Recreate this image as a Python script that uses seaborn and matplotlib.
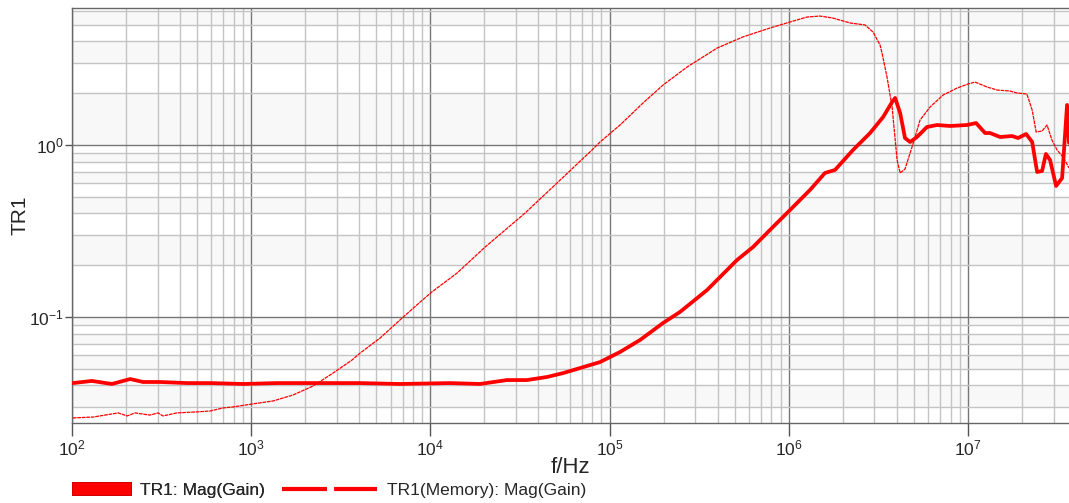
import numpy as np
import pandas as pd
import matplotlib
matplotlib.use("Agg")
import matplotlib.pyplot as plt
import matplotlib.ticker as mticker
from matplotlib.lines import Line2D
from matplotlib.patches import Patch
import seaborn as sns

# TR1: Mag(Gain) - traccia attuale
freq_tr1 = [101, 129, 167, 211, 249, 310, 438, 589, 900, 1393, 2130, 4050, 6760,
            12860, 18900, 26740, 34600, 44700, 55000, 68400, 88400, 114300, 147800,
            198700, 247000, 349700, 514000, 631000, 816000, 1.016e6, 1.313e6, 1.592e6,
            1.81e6, 2.28e6, 2.84e6, 3.36e6, 3.77e6, 3.92e6, 4.18e6, 4.45e6, 4.75e6,
            5.19e6, 5.90e6, 6.71e6, 7.94e6, 9.87e6, 1.109e7, 1.245e7, 1.328e7, 1.51e7,
            1.762e7, 1.90e7, 2.11e7, 2.28e7, 2.43e7, 2.59e7, 2.72e7, 2.87e7, 3.10e7,
            3.35e7, 3.57e7, 3.66e7]
mag_tr1 = [0.0413, 0.0425, 0.0408, 0.0436, 0.0419, 0.0419, 0.0413, 0.0413, 0.0408,
           0.0413, 0.0413, 0.0413, 0.0408, 0.0413, 0.0408, 0.0430, 0.0430, 0.0448,
           0.0472, 0.0505, 0.0547, 0.0626, 0.0735, 0.0923, 0.107, 0.1435, 0.2145,
           0.255, 0.334, 0.419, 0.548, 0.688, 0.716, 0.935, 1.174, 1.455, 1.778,
           1.877, 1.535, 1.098, 1.041, 1.113, 1.273, 1.307, 1.290, 1.307, 1.342,
           1.174, 1.174, 1.113, 1.128, 1.098, 1.159, 1.041, 0.697, 0.706, 0.887,
           0.818, 0.578, 0.643, 1.71, 1.03]

# TR1(Memory): Mag(Gain) - traccia in memoria
freq_mem = [101, 131, 181, 203, 225, 272, 302, 322, 385, 473, 589, 696, 791, 1010,
            1324, 1711, 2213, 2860, 3650, 4050, 5240, 6760, 8750, 10200, 14070, 20180,
            33740, 50850, 79700, 88400, 114300, 153500, 198700, 270400, 397600, 554600,
            785000, 1.016e6, 1.265e6, 1.494e6, 1.766e6, 2.20e6, 2.66e6, 2.95e6, 3.23e6,
            3.31e6, 3.53e6, 3.77e6, 4.02e6, 4.18e6, 4.45e6, 4.87e6, 5.40e6, 6.14e6,
            7.26e6, 8.69e6, 1.0e7, 1.094e7, 1.277e7, 1.452e7, 1.715e7, 1.877e7, 2.13e7,
            2.28e7, 2.40e7, 2.59e7, 2.76e7, 2.94e7, 3.14e7, 3.39e7, 3.66e7]
mag_mem = [0.0259, 0.0262, 0.0277, 0.0266, 0.0277, 0.0269, 0.0277, 0.0266, 0.0277,
           0.0280, 0.0284, 0.0296, 0.0300, 0.0312, 0.0325, 0.0352, 0.0397, 0.0472,
           0.0562, 0.0617, 0.0755, 0.0961, 0.122, 0.140, 0.180, 0.255, 0.402, 0.601,
           0.935, 1.041, 1.307, 1.754, 2.232, 2.84, 3.66, 4.25, 4.79, 5.19, 5.55,
           5.62, 5.47, 5.12, 4.99, 4.54, 3.81, 3.43, 2.49, 1.663, 0.818, 0.688, 0.725,
           0.973, 1.397, 1.663, 1.953, 2.144, 2.263, 2.323, 2.174, 2.088, 2.06, 2.006,
           1.98, 1.597, 1.19, 1.206, 1.307, 1.069, 0.935, 0.851, 0.735]

df_tr1 = pd.DataFrame({"f": freq_tr1, "mag": mag_tr1})
df_mem = pd.DataFrame({"f": freq_mem, "mag": mag_mem})

sns.set_style("white")
plt.rcParams["font.family"] = ["Liberation Sans", "DejaVu Sans"]
plt.rcParams["mathtext.fontset"] = "custom"
plt.rcParams["mathtext.rm"] = "Liberation Sans"
plt.rcParams["axes.unicode_minus"] = False

fig = plt.figure(figsize=(10.69, 5.03), dpi=100)
ax = fig.add_axes([72 / 1069, 1 - 423 / 503, 1 - 72 / 1069, 415 / 503])

ax.set_xscale("log")
ax.set_yscale("log")
ax.set_xlim(100, 3.66e7)
ax.set_ylim(0.0242, 6.26)

# fasce grigie alternate tra le linee della griglia orizzontale
bordi = sorted({k * d for d in [0.01, 0.1, 1.0] for k in range(1, 10)} | {10.0})
bordi = [b for b in bordi if b >= 0.03]
for i in range(len(bordi) - 1):
    if i % 2 == 0:
        ax.axhspan(bordi[i], bordi[i + 1], color="#f8f8f8", lw=0, zorder=0)

ax.grid(which="major", color="#777777", lw=1.0, zorder=1)
ax.grid(which="minor", color="#c4c4c4", lw=1.0, zorder=1)
ax.set_axisbelow(True)

sns.lineplot(data=df_mem, x="f", y="mag", ax=ax, color="#ff0000", lw=0.9,
             linestyle=(0, (3, 0.6)), estimator=None, sort=False, zorder=3)
sns.lineplot(data=df_tr1, x="f", y="mag", ax=ax, color="#ff0000", lw=2.7,
             estimator=None, sort=False, zorder=4)

ax.xaxis.set_major_locator(mticker.LogLocator(base=10))
ax.xaxis.set_minor_locator(mticker.LogLocator(base=10, subs=np.arange(2, 10)))
ax.yaxis.set_major_locator(mticker.LogLocator(base=10))
ax.yaxis.set_minor_locator(mticker.LogLocator(base=10, subs=np.arange(2, 10)))
ax.yaxis.set_minor_formatter(mticker.NullFormatter())
ax.xaxis.set_minor_formatter(mticker.NullFormatter())

ax.tick_params(axis="x", which="major", length=9, width=1, color="#555555",
               labelsize=12.5, pad=2)
ax.tick_params(axis="x", which="minor", length=3, width=0.8, color="#888888")
ax.tick_params(axis="y", which="major", length=5, width=1, color="#555555",
               labelsize=12.5, pad=1)
ax.tick_params(axis="y", which="minor", length=0)
ax.tick_params(left=True, bottom=True)

for lato in ["left", "top", "bottom"]:
    ax.spines[lato].set_visible(True)
    ax.spines[lato].set_color("#666666")
    ax.spines[lato].set_linewidth(1.0)
ax.spines["right"].set_visible(False)

ax.set_xlabel("f/Hz", fontsize=16, labelpad=-1)
ax.set_ylabel("TR1", fontsize=15)
ax.yaxis.set_label_coords(-0.043, 0.5)

# legenda sotto il grafico, due blocchi separati
h1 = Patch(facecolor="#ff0000", edgecolor="#cc0000", lw=0.6)
h2 = Line2D([], [], color="#ff0000", lw=3, linestyle=(0, (10.8, 1.7)))
leg1 = fig.legend([h1], ["TR1: Mag(Gain)"], loc="center left",
                  bbox_to_anchor=(72 / 1069, 1 - 490 / 503), frameon=False,
                  fontsize=12.5, handlelength=3.4, handleheight=0.7,
                  handletextpad=0.5, borderpad=0, borderaxespad=0)
leg2 = fig.legend([h2], ["TR1(Memory): Mag(Gain)"], loc="center left",
                  bbox_to_anchor=(282 / 1069, 1 - 490 / 503), frameon=False,
                  fontsize=12.5, handlelength=5.5, handletextpad=0.55,
                  borderpad=0, borderaxespad=0)
fig.add_artist(leg1)

fig.savefig("out.png", dpi=100)
plt.close(fig)
